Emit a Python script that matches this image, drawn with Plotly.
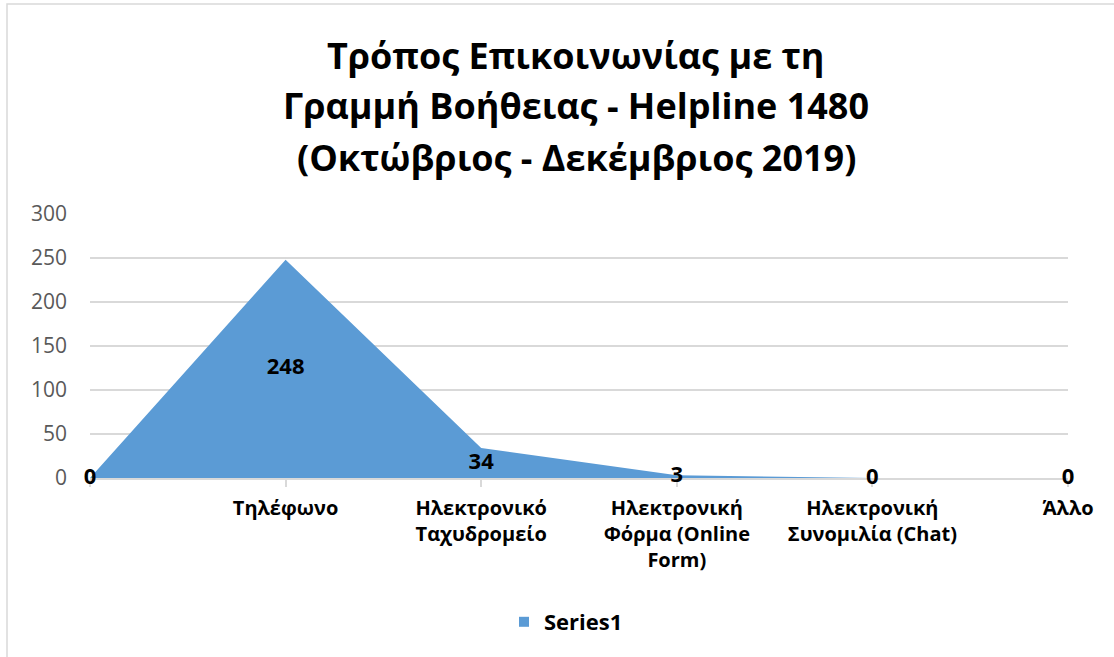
import plotly.graph_objects as go

categories = ["", "Τηλέφωνο", "Ηλεκτρονικό<br>Ταχυδρομείο", "Ηλεκτρονική<br>Φόρμα (Online<br>Form)",
              "Ηλεκτρονική<br>Συνομιλία (Chat)", "Άλλο"]
values = [0, 248, 34, 3, 0, 0]
y_ticks = [0, 50, 100, 150, 200, 250, 300]
series_name = "Series1"
title_lines = ["Τρόπος Επικοινωνίας με τη", "Γραμμή Βοήθειας - Helpline 1480", "(Οκτώβριος - Δεκέμβριος 2019)"]

FONT = "Open Sans"
BLUE = "#5b9bd5"
GRID = "#d9d9d9"
xs = list(range(len(categories)))

W, H = 1114, 657
L, R, T, B = 90, 46, 214, 179
pw, ph = W - L - R, H - T - B


def px_x(x):
    return (x - L) / pw


def px_y(y):
    return (H - B - y) / ph


fig = go.Figure()
fig.add_trace(go.Scatter(
    x=xs, y=values, mode="lines", fill="tozeroy",
    line=dict(color=BLUE, width=0), fillcolor=BLUE,
    name=series_name, showlegend=False, hoverinfo="skip"))
# legend entry (square swatch, like Excel)
fig.add_trace(go.Scatter(
    x=[None], y=[None], mode="markers", name=series_name,
    marker=dict(symbol="square", size=10, color=BLUE), showlegend=True))
# data labels at half height (Excel area chart style)
fig.add_trace(go.Scatter(
    x=xs, y=[v / 2 for v in values], mode="text",
    text=[str(v) for v in values], textposition="middle center",
    textfont=dict(family=FONT, size=22, color="#000000", weight="bold"),
    showlegend=False, hoverinfo="skip", cliponaxis=False))

annotations = []
for i, line in enumerate(title_lines):
    annotations.append(dict(
        text=line, xref="paper", yref="paper", x=px_x(576), y=px_y(55 + i * 51),
        xanchor="center", yanchor="middle", showarrow=False,
        font=dict(family=FONT, size=36, color="#000000", weight="bold")))

fig.update_layout(
    width=W, height=H,
    margin=dict(l=L, r=R, t=T, b=B, autoexpand=False),
    paper_bgcolor="white", plot_bgcolor="white",
    font=dict(family=FONT),
    annotations=annotations,
    xaxis=dict(range=[0, len(categories) - 1], tickmode="array", tickvals=xs, ticktext=categories,
               showgrid=False, zeroline=False, showline=True, linecolor=GRID, linewidth=1.5,
               ticks="outside", ticklen=7, tickcolor=GRID, tickwidth=1.5, ticklabelstandoff=4,
               layer="below traces",
               tickfont=dict(family=FONT, size=20, color="#000000", weight="bold")),
    yaxis=dict(range=[0, 300], tickvals=y_ticks, showgrid=True, gridcolor=GRID, gridwidth=1.5,
               zeroline=False, showline=False, ticks="", ticklabelstandoff=22,
               layer="below traces",
               tickfont=dict(family=FONT, size=21, color="#595959")),
    legend=dict(orientation="h", x=px_x(566), xanchor="center", y=px_y(622), yanchor="middle",
                font=dict(family=FONT, size=22, color="#000000", weight="bold"),
                itemwidth=30, bgcolor="rgba(0,0,0,0)"),
    shapes=[dict(type="rect", xref="paper", yref="paper",
                 x0=px_x(7), x1=px_x(1125),
                 y0=px_y(670), y1=px_y(4),
                 line=dict(color=GRID, width=1.5), layer="below")],
)
fig.write_html("out.html", config={"displayModeBar": False},
               post_script="document.body.style.margin='0';")
